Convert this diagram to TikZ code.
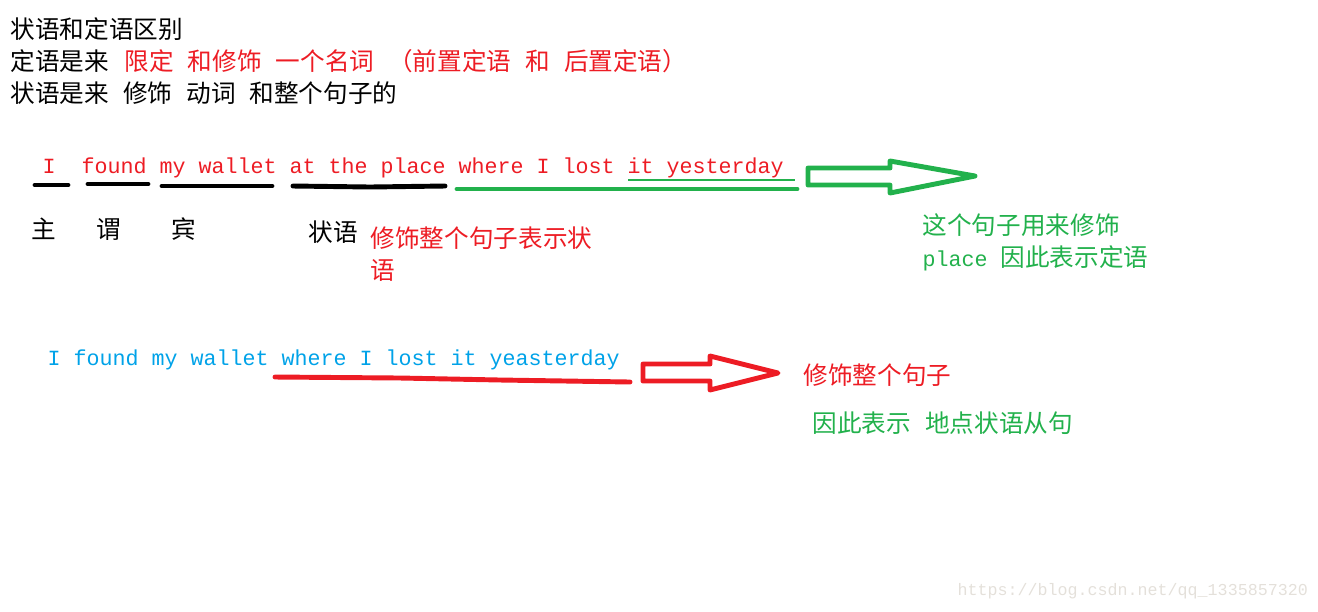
\documentclass[tikz,border=0pt]{standalone}
\usepackage{fontspec}
\setmainfont{Noto Sans CJK SC}
\newfontfamily\monofont{Liberation Mono}
\definecolor{paintred}{HTML}{ED1C24}
\definecolor{paintgreen}{HTML}{22B14C}
\definecolor{paintblue}{HTML}{00A2E8}
\definecolor{markgray}{HTML}{E4E0DA}
\newcommand\kong{\hspace{0.57em}}

\tikzset{
  zh/.style={anchor=west,inner sep=0pt,font=\fontsize{7.0}{8}\selectfont},
  en/.style={anchor=west,inner sep=0pt,font=\monofont\fontsize{6.16}{8}\selectfont},
  pen/.style={line width=1.4pt,line cap=round},
}

\begin{document}
\begin{tikzpicture}[x=0.01cm,y=-0.01cm]
\useasboundingbox (0,0) rectangle (1318,611);

% heading
\node[zh] (title) at (10,29) {状语和定语区别};
\node[zh] (dingyu) at (10,61) {定语是来};
\node[zh,text=paintred] (dingyured) at (124,61) {限定\kong 和修饰\kong 一个名词\kong （前置定语\kong 和\kong 后置定语）};
\node[zh] (zhuangyu) at (10,93) {状语是来\kong 修饰\kong 动词\kong 和整个句子的};

% first sentence
\node[en,text=paintred] (first) at (42,168) {I~~found my wallet at the place where I lost it yesterday};
\draw[paintgreen,line width=0.3pt] (628,180) -- (795,180);
\draw[pen,black] (35,185) -- (68,185);
\draw[pen,black] (88,184) -- (148,184);
\draw[pen,black] (162,186) -- (272,186);
\draw[pen,black] (293,186) -- (370,187) -- (445,186);
\draw[pen,paintgreen] (457,189) -- (797,189);
\draw[pen,paintgreen,line join=round] (808,168) -- (890,168) -- (890,161) -- (975,176)
  -- (890,193) -- (890,185) -- (808,185) -- cycle;

\node[zh] (zhu) at (31,229) {主};
\node[zh] (wei) at (96,229) {谓};
\node[zh] (bin) at (171,229) {宾};
\node[zh] (zy) at (308,232) {状语};
\node[zh,text=paintred] (zynote) at (370,238) {修饰整个句子表示状};
\node[zh,text=paintred] (zynote2) at (370,270) {语};
\node[zh,text=paintgreen] (dynote) at (922,225) {这个句子用来修饰};
\node[zh,text=paintgreen] (dynote2) at (922,258) {{\monofont\fontsize{6.16}{8}\selectfont place }因此表示定语};

% second sentence
\node[en,text=paintblue] (second) at (47,360) {I found my wallet where I lost it yeasterday};
\draw[pen,paintred] (275,377) -- (400,378) -- (500,380) -- (630,382);
\draw[pen,paintred,line join=round] (643,364) -- (710,364) -- (710,356) -- (778,373)
  -- (710,390) -- (710,381) -- (643,381) -- cycle;
\node[zh,text=paintred] (whole) at (803,375) {修饰整个句子};
\node[zh,text=paintgreen] (didian) at (812,423) {因此表示\kong 地点状语从句};

\node[anchor=west,inner sep=0pt,text=markgray,font=\monofont\fontsize{4.74}{6}\selectfont] (mark) at (957,591) {https://blog.csdn.net/qq\_1335857320};
\end{tikzpicture}
\end{document}
